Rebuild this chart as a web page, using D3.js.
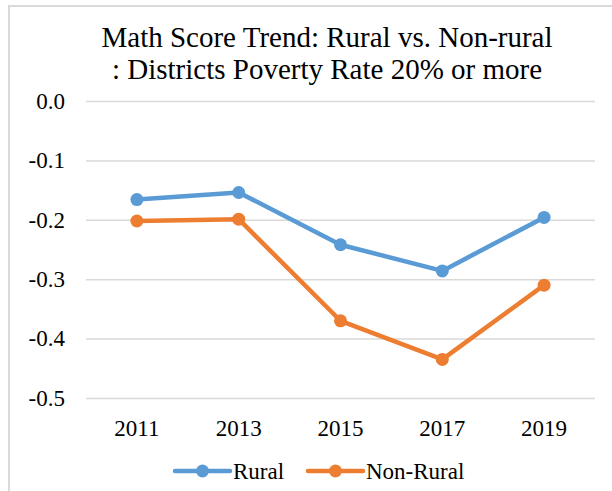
<!DOCTYPE html>
<html>
<head>
<meta charset="utf-8">
<script src="https://cdn.jsdelivr.net/npm/d3@7"></script>
<style>
  html, body { margin: 0; padding: 0; background: #fff; }
  svg { display: block; }
  svg text { font-family: "Liberation Serif", "Times New Roman", serif !important; }
</style>
</head>
<body>
<svg id="chart" width="612" height="491"></svg>
<script>
// Average math score gap by year, districts with poverty rate of 20% or more
const years = ["2011", "2013", "2015", "2017", "2019"];
const rural = [-0.166, -0.154, -0.242, -0.286, -0.196];
const nonRural = [-0.202, -0.199, -0.370, -0.435, -0.310];
const yTicks = [0, -0.1, -0.2, -0.3, -0.4, -0.5];
const titleLines = ["Math Score Trend: Rural vs. Non-rural", ": Districts Poverty Rate 20% or more"];

const seriesList = [
  { name: "Rural", values: rural, color: "#5B9BD5" },
  { name: "Non-Rural", values: nonRural, color: "#ED7D31" }
];

const svg = d3.select("#chart");
const W = 612, H = 491;

// outer frame
svg.append("rect").attr("x", 9).attr("y", 6).attr("width", W).attr("height", H)
  .attr("fill", "#fff").attr("stroke", "#d9d9d9").attr("stroke-width", 2);

const plot = { left: 86, right: 595, top: 101, bottom: 398 };

const x = d3.scaleBand().domain(years).range([plot.left, plot.right]);
const y = d3.scaleLinear().domain([-0.5, 0]).range([plot.bottom, plot.top]);

// title
svg.append("g").selectAll("text").data(titleLines).join("text")
  .attr("x", 327).attr("y", (d, i) => 47 + i * 32)
  .attr("text-anchor", "middle")
  .attr("font-size", 29).attr("fill", "#000")
  .text(d => d);

// gridlines + y labels
const yAxis = d3.axisLeft(y).tickValues(yTicks)
  .tickFormat(d => d === 0 ? "0.0" : d3.format(".1f")(d).replace("−", "-"))
  .tickSize(-(plot.right - plot.left)).tickPadding(21);
const gy = svg.append("g").attr("transform", `translate(${plot.left},0)`).call(yAxis);
gy.select(".domain").remove();
gy.selectAll(".tick text").attr("font-size", 23).attr("fill", "#000");
gy.selectAll(".tick line").attr("stroke", "#d9d9d9").attr("stroke-width", 1.5);

// x labels
const xAxis = d3.axisBottom(x).tickSize(0).tickPadding(22);
const gx = svg.append("g").attr("transform", `translate(0,${plot.bottom})`).call(xAxis);
gx.select(".domain").remove();
gx.selectAll(".tick text").attr("font-size", 23).attr("fill", "#000");

const cx = d => x(d) + x.bandwidth() / 2;
const line = d3.line().x((d, i) => cx(years[i])).y(d => y(d));

seriesList.forEach(s => {
  const g = svg.append("g");
  g.append("path").datum(s.values)
    .attr("d", line).attr("fill", "none")
    .attr("stroke", s.color).attr("stroke-width", 4.5)
    .attr("stroke-linejoin", "round").attr("stroke-linecap", "round");
  g.selectAll("circle").data(s.values).join("circle")
    .attr("cx", (d, i) => cx(years[i])).attr("cy", d => y(d))
    .attr("r", 6.5).attr("fill", s.color);
});

// legend
const legendItems = [
  { s: seriesList[0], x0: 175 },
  { s: seriesList[1], x0: 308 }
];
const ly = 471;
legendItems.forEach(({ s, x0 }) => {
  const g = svg.append("g");
  g.append("line").attr("x1", x0).attr("x2", x0 + 55).attr("y1", ly).attr("y2", ly)
    .attr("stroke", s.color).attr("stroke-width", 4.5).attr("stroke-linecap", "round");
  g.append("circle").attr("cx", x0 + 27.5).attr("cy", ly).attr("r", 6.5).attr("fill", s.color);
  g.append("text").attr("x", x0 + 58).attr("y", ly + 8)
    .attr("font-size", 23).attr("fill", "#000").text(s.name);
});
</script>
</body>
</html>
